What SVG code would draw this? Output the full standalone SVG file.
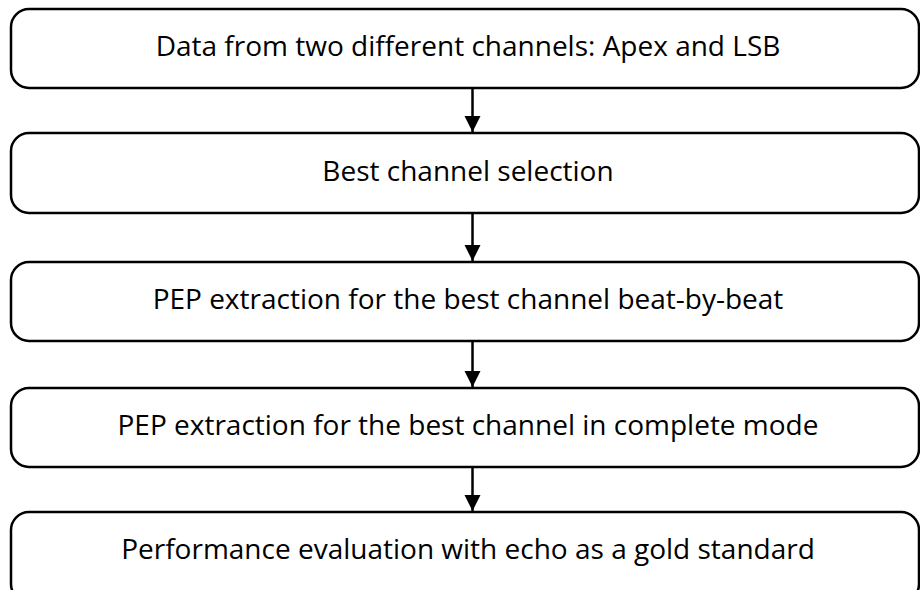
<svg xmlns="http://www.w3.org/2000/svg" width="920" height="590" viewBox="0 0 920 590">
<style>
.box{fill:#fff;stroke:#000;stroke-width:2.5}
.lbl{font-family:"Open Sans","Noto Sans",sans-serif;font-size:28px;fill:#000;text-anchor:middle}
.conn{stroke:#000;stroke-width:2.5;fill:none}
</style>
<defs>
<marker id="ah" markerUnits="userSpaceOnUse" markerWidth="16" markerHeight="19" refX="16" refY="8" orient="auto" viewBox="0 0 16 16"><path d="M0,0 L16,8 L0,16 Z" fill="#000"/></marker>
</defs>
<rect width="920" height="590" fill="#fff"/>
<g id="n1"><rect class="box" x="11" y="9" width="908" height="79" rx="18"/><text class="lbl" x="468" y="56">Data from two different channels: Apex and LSB</text></g>
<g id="n2"><rect class="box" x="11" y="133" width="908" height="80" rx="18"/><text class="lbl" x="468" y="181">Best channel selection</text></g>
<g id="n3"><rect class="box" x="11" y="262" width="908" height="79" rx="18"/><text class="lbl" x="468" y="309">PEP extraction for the best channel beat-by-beat</text></g>
<g id="n4"><rect class="box" x="11" y="388" width="908" height="79" rx="18"/><text class="lbl" x="468" y="435">PEP extraction for the best channel in complete mode</text></g>
<g id="n5"><rect class="box" x="11" y="512" width="908" height="90" rx="18"/><text class="lbl" x="468" y="559">Performance evaluation with echo as a gold standard</text></g>
<g id="connectors">
<line class="conn" x1="472.5" y1="88" x2="472.5" y2="132" marker-end="url(#ah)"/>
<line class="conn" x1="472.5" y1="213" x2="472.5" y2="261" marker-end="url(#ah)"/>
<line class="conn" x1="472.5" y1="341" x2="472.5" y2="387" marker-end="url(#ah)"/>
<line class="conn" x1="472.5" y1="467" x2="472.5" y2="511" marker-end="url(#ah)"/>
</g>
</svg>
